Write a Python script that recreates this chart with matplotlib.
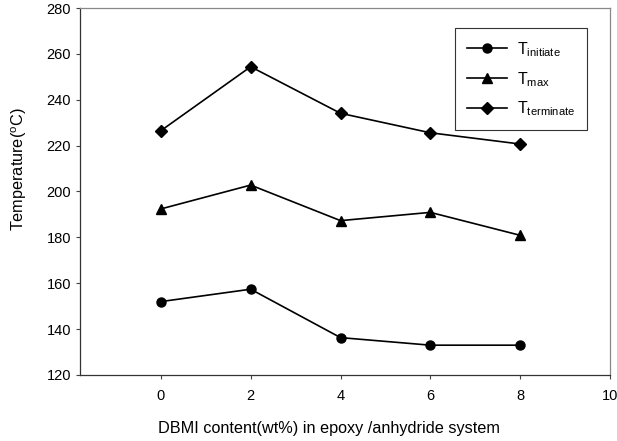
import matplotlib
matplotlib.use("Agg")
import matplotlib.pyplot as plt

plt.rcParams['font.family'] = ['Liberation Sans', 'DejaVu Sans']
plt.rcParams['mathtext.fontset'] = 'custom'
plt.rcParams['mathtext.rm'] = 'Liberation Sans'
plt.rcParams['mathtext.it'] = 'Liberation Sans'
plt.rcParams['mathtext.default'] = 'regular'

dbmi = [0, 2, 4, 6, 8]
t_initiate = [152, 157.4, 136.3, 133, 133]
t_max = [192.4, 202.8, 187.3, 190.9, 180.9]
t_terminate = [226.5, 254.4, 234.1, 225.6, 220.7]
labels = ['T$_{initiate}$', 'T$_{max}$', 'T$_{terminate}$']
xticks = [0, 2, 4, 6, 8, 10]
yticks = [120, 140, 160, 180, 200, 220, 240, 260, 280]

fig = plt.figure(figsize=(6.17, 4.41), dpi=100)
ax = fig.add_axes([80/617, 1-375/441, 530/617, 367/441])

ax.plot(dbmi, t_initiate, color='black', lw=1.2, marker='o', ms=6.5, label=labels[0])
ax.plot(dbmi, t_max, color='black', lw=1.2, marker='^', ms=6.5, label=labels[1])
ax.plot(dbmi, t_terminate, color='black', lw=1.2, marker='D', ms=6, label=labels[2])

ax.set_xlim(-1.8, 10)
ax.set_ylim(120, 280)
ax.set_xticks(xticks)
ax.set_yticks(yticks)
ax.tick_params(axis='both', labelsize=10.5, direction='out', length=3, width=0.8, color='#444444')
ax.tick_params(axis='x', pad=7)
for s in ['left', 'bottom']:
    ax.spines[s].set_color('#333333')
    ax.spines[s].set_linewidth(0.9)
for s in ['top', 'right']:
    ax.spines[s].set_color('#888888')
    ax.spines[s].set_linewidth(0.9)

ax.set_xlabel('DBMI content(wt%) in epoxy /anhydride system', fontsize=11.7)
ax.xaxis.set_label_coords(0.47, -0.124)
ax.set_ylabel('Temperature($^{o}$C)', fontsize=11.7)
ax.yaxis.set_label_coords(-0.097, 0.56)

leg = ax.legend(loc='upper left', bbox_to_anchor=(0.7075, 0.9455), borderaxespad=0,
                fontsize=11.5, frameon=True, fancybox=False, edgecolor='#333333',
                framealpha=1, handlelength=2.5, labelspacing=0.7, borderpad=0.75,
                handletextpad=0.65)
leg.get_frame().set_linewidth(0.8)

fig.savefig('out.png', dpi=100)
